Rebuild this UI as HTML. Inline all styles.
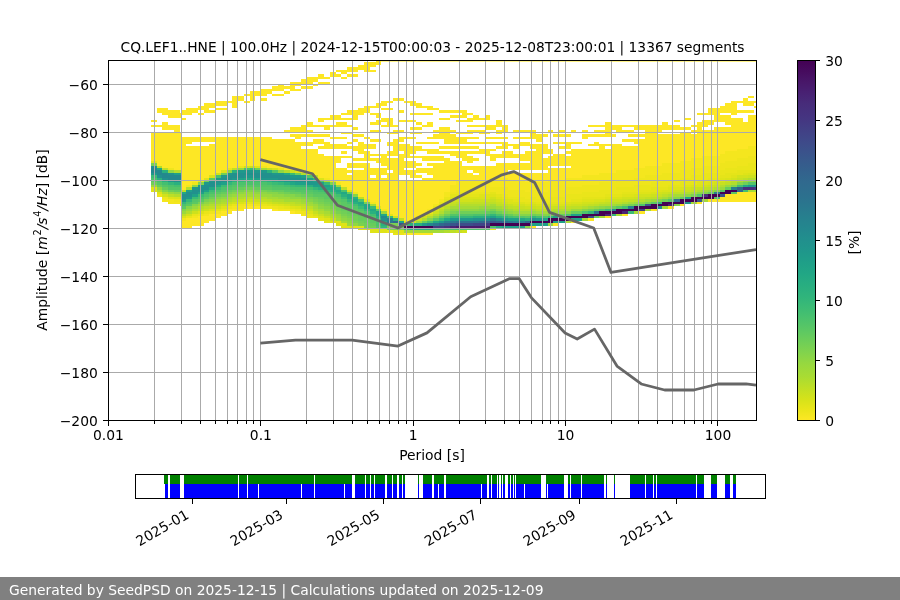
<!DOCTYPE html>
<html lang="en"><head><meta charset="utf-8"><title>PPSD CQ.LEF1..HNE</title>
<style>
html,body{margin:0;padding:0;background:#fff;}
body{width:900px;height:600px;overflow:hidden;position:relative;font-family:'DejaVu Sans','Liberation Sans',sans-serif;}
svg{position:absolute;left:0;top:0;display:block;}
</style></head><body>
<svg width="900" height="600" viewBox="0 0 900 600">
<rect width="900" height="600" fill="#fff"/>
<g shape-rendering="crispEdges">
<path fill="#fde725" d="M375.65 60H381.38V64.8H375.65zM369.92 62.4H375.65V67.2H369.92zM364.19 62.4H369.92V72H364.19zM358.45 64.8H364.19V69.6H358.45zM346.99 67.2H358.45V72H346.99zM335.52 69.6H341.25V72H335.52zM369.92 69.6H375.65V72H369.92zM341.25 69.6H346.99V74.4H341.25zM329.79 72H335.52V76.8H329.79zM335.52 74.4H341.25V76.8H335.52zM346.99 74.4H358.45V76.8H346.99zM318.32 74.4H324.06V79.2H318.32zM324.05 76.8H329.79V79.2H324.05zM341.25 76.8H346.99V79.2H341.25zM312.59 76.8H318.32V81.6H312.59zM306.86 76.8H312.59V84H306.86zM301.12 79.2H306.86V84H301.12zM318.32 81.6H329.79V84H318.32zM295.39 81.6H301.12V86.4H295.39zM289.66 81.6H295.39V91.2H289.66zM312.59 84H318.32V86.4H312.59zM278.19 84H283.92V91.2H278.19zM283.92 86.4H289.66V88.8H283.92zM301.12 86.4H312.59V88.8H301.12zM272.46 86.4H278.19V91.2H272.46zM295.39 88.8H301.12V91.2H295.39zM266.72 88.8H272.46V93.6H266.72zM260.99 88.8H266.72V96H260.99zM283.92 91.2H289.66V93.6H283.92zM255.26 91.2H260.99V96H255.26zM249.53 91.2H255.26V100.8H249.53zM243.79 93.6H249.53V96H243.79zM272.46 93.6H283.92V96H272.46zM748.3 96H754.03V98.4H748.3zM238.06 96H243.79V100.8H238.06zM232.33 96H238.06V108H232.33zM260.99 98.4H266.72V100.8H260.99zM392.85 98.4H404.32V100.8H392.85zM742.56 98.4H748.3V105.6H742.56zM226.59 100.8H232.33V103.2H226.59zM243.79 100.8H249.53V103.2H243.79zM387.12 100.8H392.85V103.2H387.12zM404.32 100.8H410.05V103.2H404.32zM736.83 100.8H742.56V103.2H736.83zM754.03 100.8H756V103.2H754.03zM215.13 100.8H226.59V105.6H215.13zM381.38 100.8H387.12V105.6H381.38zM410.05 100.8H415.78V105.6H410.05zM748.3 100.8H754.03V105.6H748.3zM731.1 100.8H736.83V115.2H731.1zM209.39 103.2H215.13V108H209.39zM375.65 103.2H381.38V108H375.65zM415.78 103.2H421.52V108H415.78zM203.66 103.2H209.39V112.8H203.66zM725.37 103.2H731.1V112.8H725.37zM369.92 105.6H375.65V108H369.92zM421.52 105.6H427.25V108H421.52zM754.03 105.6H756V108H754.03zM197.93 105.6H203.66V110.4H197.93zM427.25 105.6H432.98V110.4H427.25zM364.19 105.6H369.92V112.8H364.19zM719.63 105.6H725.36V112.8H719.63zM215.13 108H226.59V110.4H215.13zM381.38 108H392.85V110.4H381.38zM432.98 108H438.71V110.4H432.98zM156.73 108H162.47V112.8H156.73zM192.2 108H197.93V112.8H192.2zM162.47 108H168.2V115.2H162.47zM186.46 108H192.2V115.2H186.46zM358.45 108H364.19V115.2H358.45zM708.17 108H713.9V115.2H708.17zM713.9 108H719.63V122.4H713.9zM209.39 110.4H215.13V112.8H209.39zM398.58 110.4H404.32V112.8H398.58zM438.71 110.4H461.65V112.8H438.71zM736.83 110.4H754.03V112.8H736.83zM180.73 110.4H186.46V115.2H180.73zM346.99 110.4H352.72V115.2H346.99zM168.2 110.4H179.66V117.6H168.2zM461.65 110.4H467.38V117.6H461.65zM352.72 110.4H358.45V120H352.72zM197.93 112.8H203.66V115.2H197.93zM341.25 112.8H346.99V115.2H341.25zM369.92 112.8H375.65V115.2H369.92zM410.05 112.8H432.98V115.2H410.05zM467.38 112.8H473.11V115.2H467.38zM696.7 112.8H708.17V115.2H696.7zM179.66 112.8H180.73V117.6H179.66zM375.65 112.8H381.38V117.6H375.65zM450.18 115.2H461.65V117.6H450.18zM329.79 115.2H341.25V120H329.79zM473.11 115.2H478.85V120H473.11zM484.58 115.2H490.31V120H484.58zM719.63 115.2H725.36V122.4H719.63zM725.37 115.2H731.1V124.8H725.37zM748.3 115.2H756V146.4H748.3zM180.73 117.6H186.46V120H180.73zM324.05 117.6H329.79V120H324.05zM341.25 117.6H352.72V120H341.25zM438.71 117.6H450.18V120H438.71zM478.85 117.6H484.58V120H478.85zM685.23 117.6H690.97V120H685.23zM318.32 117.6H324.06V122.4H318.32zM381.38 117.6H387.12V122.4H381.38zM467.38 117.6H473.11V122.4H467.38zM387.12 117.6H392.85V127.2H387.12zM736.83 117.6H742.56V148.8H736.83zM731.1 117.6H736.83V151.2H731.1zM151 120H156.73V122.4H151zM398.58 120H415.78V122.4H398.58zM455.91 120H467.38V122.4H455.91zM673.77 120H679.5V122.4H673.77zM375.65 120H381.38V124.8H375.65zM708.17 120H713.9V124.8H708.17zM496.04 120H501.78V127.2H496.04zM702.43 120H708.17V127.2H702.43zM369.92 122.4H375.65V124.8H369.92zM415.78 122.4H421.52V124.8H415.78zM306.86 122.4H312.59V127.2H306.86zM335.52 122.4H346.99V127.2H335.52zM427.25 122.4H432.98V127.2H427.25zM162.47 122.4H168.2V129.6H162.47zM662.3 122.4H668.03V129.6H662.3zM604.97 122.4H610.7V136.8H604.97zM742.56 122.4H748.3V148.8H742.56zM696.7 122.4H702.43V158.4H696.7zM151 124.8H162.47V127.2H151zM312.59 124.8H324.06V127.2H312.59zM329.79 124.8H335.52V127.2H329.79zM346.99 124.8H352.72V127.2H346.99zM381.38 124.8H387.12V127.2H381.38zM392.85 124.8H398.58V127.2H392.85zM421.52 124.8H427.25V127.2H421.52zM467.38 124.8H484.58V127.2H467.38zM587.77 124.8H604.97V127.2H587.77zM622.17 124.8H633.64V127.2H622.17zM690.97 124.8H696.7V127.2H690.97zM168.2 124.8H173.93V129.6H168.2zM324.05 124.8H329.79V129.6H324.05zM484.58 124.8H496.05V129.6H484.58zM610.7 124.8H616.44V129.6H610.7zM633.64 124.8H645.1V129.6H633.64zM668.03 124.8H679.5V129.6H668.03zM301.12 124.8H306.86V132H301.12zM501.78 124.8H507.51V132H501.78zM616.44 124.8H622.17V132H616.44zM656.57 124.8H662.3V132H656.57zM645.1 124.8H656.57V165.6H645.1zM173.93 124.8H179.66V170.4H173.93zM352.72 127.2H358.45V129.6H352.72zM410.05 127.2H421.52V129.6H410.05zM679.5 127.2H690.97V129.6H679.5zM289.66 127.2H301.12V132H289.66zM438.71 127.2H444.45V139.2H438.71zM444.45 127.2H450.18V144H444.45zM725.37 127.2H731.1V151.2H725.37zM719.63 127.2H725.36V153.6H719.63zM713.9 127.2H719.63V156H713.9zM283.92 129.6H289.66V132H283.92zM306.86 129.6H312.59V132H306.86zM369.92 129.6H381.38V132H369.92zM398.58 129.6H404.32V132H398.58zM432.98 129.6H438.71V132H432.98zM450.18 129.6H455.91V132H450.18zM473.11 129.6H478.85V132H473.11zM513.24 129.6H530.44V132H513.24zM547.64 129.6H553.37V132H547.64zM559.11 129.6H564.84V132H559.11zM570.57 129.6H576.31V132H570.57zM582.04 129.6H587.77V132H582.04zM593.51 129.6H604.97V132H593.51zM622.17 129.6H633.64V132H622.17zM690.97 129.6H696.7V132H690.97zM392.85 129.6H398.58V134.4H392.85zM467.38 129.6H473.11V134.4H467.38zM478.85 129.6H484.58V134.4H478.85zM496.04 129.6H501.78V134.4H496.04zM530.44 129.6H536.18V139.2H530.44zM702.43 129.6H713.9V156H702.43zM341.25 132H352.72V134.4H341.25zM387.12 132H392.85V134.4H387.12zM410.05 132H421.52V134.4H410.05zM455.91 132H467.38V134.4H455.91zM484.58 132H490.31V134.4H484.58zM151 132H156.73V160.8H151zM679.5 132H690.97V160.8H679.5zM156.73 132H162.47V165.6H156.73zM162.47 132H173.93V168H162.47zM179.66 132H180.73V170.4H179.66zM289.66 134.4H295.39V136.8H289.66zM301.12 134.4H329.79V136.8H301.12zM352.72 134.4H364.19V136.8H352.72zM541.91 134.4H547.64V136.8H541.91zM553.38 134.4H570.57V136.8H553.38zM587.77 134.4H604.97V136.8H587.77zM610.7 134.4H616.44V136.8H610.7zM627.9 134.4H645.1V136.8H627.9zM295.39 134.4H301.12V139.2H295.39zM432.98 134.4H438.71V139.2H432.98zM582.04 134.4H587.77V139.2H582.04zM536.18 134.4H541.91V141.6H536.18zM450.18 134.4H455.91V144H450.18zM690.97 134.4H696.7V158.4H690.97zM662.3 134.4H679.5V163.2H662.3zM656.57 134.4H662.3V165.6H656.57zM329.79 136.8H346.99V139.2H329.79zM364.19 136.8H369.92V139.2H364.19zM404.32 136.8H415.78V139.2H404.32zM427.25 136.8H432.98V139.2H427.25zM467.38 136.8H478.85V139.2H467.38zM484.58 136.8H507.51V139.2H484.58zM513.24 136.8H530.44V139.2H513.24zM192.2 136.8H215.13V141.6H192.2zM398.58 136.8H404.32V141.6H398.58zM186.46 136.8H192.2V144H186.46zM455.91 136.8H467.38V144H455.91zM238.06 136.8H266.72V165.6H238.06zM226.59 136.8H238.06V168H226.59zM266.72 136.8H272.46V168H266.72zM220.86 136.8H226.59V170.4H220.86zM215.13 136.8H220.86V172.8H215.13zM180.73 136.8H186.46V189.6H180.73zM352.72 139.2H358.45V141.6H352.72zM369.92 139.2H381.38V141.6H369.92zM622.17 139.2H633.64V141.6H622.17zM312.59 139.2H324.06V144H312.59zM633.64 139.2H639.37V144H633.64zM392.85 139.2H398.58V156H392.85zM272.46 139.2H283.92V168H272.46zM639.37 139.2H645.1V168H639.37zM283.92 139.2H295.39V170.4H283.92zM346.99 141.6H352.72V144H346.99zM415.78 141.6H438.71V144H415.78zM467.38 141.6H501.78V144H467.38zM553.38 141.6H564.84V144H553.38zM570.57 141.6H582.04V144H570.57zM301.12 141.6H312.59V146.4H301.12zM387.12 141.6H392.85V146.4H387.12zM518.98 141.6H530.44V146.4H518.98zM593.51 141.6H599.24V146.4H593.51zM324.05 141.6H329.79V148.8H324.05zM501.78 141.6H507.51V148.8H501.78zM564.84 141.6H570.57V148.8H564.84zM358.45 141.6H364.19V153.6H358.45zM295.39 141.6H301.12V170.4H295.39zM507.51 144H513.24V146.4H507.51zM587.77 144H593.51V146.4H587.77zM604.97 144H610.7V146.4H604.97zM329.79 144H346.99V148.8H329.79zM364.19 144H375.65V148.8H364.19zM513.24 144H518.98V148.8H513.24zM530.44 144H536.18V148.8H530.44zM398.58 144H404.32V151.2H398.58zM541.91 144H547.64V153.6H541.91zM404.32 144H410.05V158.4H404.32zM536.18 144H541.91V170.4H536.18zM616.44 144H622.17V170.4H616.44zM599.24 144H604.97V172.8H599.24zM610.7 144H616.44V172.8H610.7zM209.39 144H215.13V175.2H209.39zM318.32 146.4H324.06V148.8H318.32zM346.99 146.4H352.72V148.8H346.99zM438.71 146.4H478.85V148.8H438.71zM496.04 146.4H501.78V148.8H496.04zM559.11 146.4H564.84V148.8H559.11zM352.72 146.4H358.45V151.2H352.72zM415.78 146.4H421.52V151.2H415.78zM410.05 146.4H415.78V153.6H410.05zM633.64 146.4H639.37V168H633.64zM622.17 146.4H633.64V170.4H622.17zM203.66 146.4H209.39V177.6H203.66zM197.93 146.4H203.66V180H197.93zM192.2 146.4H197.93V182.4H192.2zM186.46 146.4H192.2V184.8H186.46zM421.52 148.8H427.25V151.2H421.52zM490.31 148.8H496.05V151.2H490.31zM427.25 148.8H438.71V153.6H427.25zM478.85 148.8H484.58V153.6H478.85zM547.64 148.8H553.37V153.6H547.64zM484.58 148.8H490.31V156H484.58zM301.12 148.8H306.86V170.4H301.12zM306.86 148.8H312.59V172.8H306.86zM604.97 148.8H610.7V172.8H604.97zM312.59 148.8H318.32V175.2H312.59zM582.04 148.8H599.24V175.2H582.04zM570.57 148.8H582.04V177.6H570.57zM341.25 151.2H346.99V153.6H341.25zM438.71 151.2H450.18V153.6H438.71zM467.38 151.2H478.85V153.6H467.38zM564.84 151.2H570.57V153.6H564.84zM387.12 151.2H392.85V156H387.12zM450.18 151.2H455.91V156H450.18zM455.91 151.2H461.65V158.4H455.91zM501.78 151.2H513.24V158.4H501.78zM364.19 151.2H369.92V160.8H364.19zM461.65 151.2H467.38V160.8H461.65zM524.71 151.2H530.44V160.8H524.71zM530.44 151.2H536.18V170.4H530.44zM369.92 153.6H381.38V156H369.92zM496.04 153.6H501.78V158.4H496.04zM513.24 153.6H518.98V158.4H513.24zM490.31 153.6H496.05V160.8H490.31zM518.98 153.6H524.71V160.8H518.98zM381.38 153.6H387.12V165.6H381.38zM553.38 153.6H564.84V165.6H553.38zM398.58 153.6H404.32V175.2H398.58zM318.32 153.6H324.06V177.6H318.32zM341.25 156H352.72V158.4H341.25zM410.05 156H421.52V158.4H410.05zM421.52 156H444.45V160.8H421.52zM335.52 156H341.25V163.2H335.52zM467.38 156H473.11V163.2H467.38zM547.64 156H553.37V165.6H547.64zM564.84 156H570.57V165.6H564.84zM324.05 156H329.79V177.6H324.05zM329.79 156H335.52V180H329.79zM352.72 158.4H364.19V160.8H352.72zM369.92 158.4H375.65V160.8H369.92zM473.11 158.4H478.85V160.8H473.11zM375.65 158.4H381.38V163.2H375.65zM387.12 158.4H392.85V170.4H387.12zM541.91 158.4H547.64V170.4H541.91zM444.45 158.4H450.18V192H444.45zM392.85 158.4H398.58V216H392.85zM404.32 160.8H415.78V168H404.32zM455.91 160.8H461.65V180H455.91zM450.18 160.8H455.91V184.8H450.18zM415.78 163.2H421.52V165.6H415.78zM427.25 163.2H432.98V165.6H427.25zM346.99 163.2H364.19V168H346.99zM507.51 163.2H530.44V170.4H507.51zM496.04 163.2H507.51V177.6H496.04zM364.19 163.2H369.92V199.2H364.19zM438.71 163.2H444.45V199.2H438.71zM432.98 163.2H438.71V204H432.98zM467.38 165.6H473.11V170.4H467.38zM473.11 165.6H478.85V172.8H473.11zM490.31 165.6H496.05V177.6H490.31zM461.65 165.6H467.38V180H461.65zM478.85 165.6H490.31V180H478.85zM415.78 168H427.25V172.8H415.78zM369.92 168H375.65V175.2H369.92zM381.38 168H387.12V175.2H381.38zM427.25 168H432.98V175.2H427.25zM564.84 168H570.57V177.6H564.84zM547.64 168H564.84V180H547.64zM335.52 168H341.25V182.4H335.52zM341.25 168H346.99V187.2H341.25zM375.65 168H381.38V206.4H375.65zM346.99 170.4H352.72V172.8H346.99zM404.32 170.4H410.05V175.2H404.32zM410.05 170.4H415.78V177.6H410.05zM352.72 170.4H358.45V192H352.72zM358.45 170.4H364.19V196.8H358.45zM467.38 172.8H473.11V180H467.38zM507.51 172.8H524.71V180H507.51zM530.44 172.8H536.18V180H530.44zM524.71 172.8H530.44V182.4H524.71zM536.18 172.8H547.64V182.4H536.18zM387.12 172.8H392.85V213.6H387.12zM415.78 175.2H421.52V177.6H415.78zM473.11 175.2H478.85V180H473.11zM346.99 175.2H352.72V189.6H346.99zM369.92 177.6H375.65V201.6H369.92zM381.38 177.6H387.12V208.8H381.38zM427.25 177.6H432.98V208.8H427.25zM421.52 177.6H427.25V213.6H421.52zM415.78 180H421.52V216H415.78zM398.58 180H404.32V218.4H398.58zM404.32 180H415.78V220.8H404.32zM736.83 192H756V201.6H736.83zM725.37 194.4H736.83V201.6H725.37zM719.63 196.8H725.36V201.6H719.63zM708.17 199.2H719.63V201.6H708.17zM696.7 201.6H702.43V204H696.7zM679.5 204H685.23V206.4H679.5zM243.79 206.4H260.99V208.8H243.79zM668.03 206.4H673.77V208.8H668.03zM232.33 208.8H243.79V211.2H232.33zM272.46 208.8H278.19V211.2H272.46zM650.84 208.8H656.57V211.2H650.84zM226.59 208.8H232.33V213.6H226.59zM289.66 211.2H295.39V213.6H289.66zM639.37 211.2H645.1V213.6H639.37zM220.86 211.2H226.59V216H220.86zM622.17 213.6H627.9V216H622.17zM215.13 213.6H220.86V218.4H215.13zM209.39 213.6H215.13V220.8H209.39zM604.97 216H610.7V218.4H604.97zM203.66 216H209.39V223.2H203.66zM197.93 216H203.66V225.6H197.93zM587.77 218.4H593.51V220.8H587.77zM192.2 218.4H197.93V225.6H192.2zM186.46 218.4H192.2V228H186.46zM570.57 220.8H576.31V223.2H570.57zM180.73 220.8H186.46V228H180.73zM553.38 223.2H559.11V225.6H553.38zM530.44 225.6H536.18V228H530.44zM404.32 232.8H432.98V235.2H404.32z"/>
<path fill="#f4e61e" d="M748.3 146.4H756V156H748.3zM736.83 148.8H748.3V158.4H736.83zM725.37 151.2H736.83V160.8H725.37zM719.63 153.6H725.36V163.2H719.63zM702.43 156H719.63V165.6H702.43zM690.97 158.4H702.43V168H690.97zM679.5 160.8H690.97V170.4H679.5zM662.3 163.2H679.5V172.8H662.3zM260.99 165.6H266.72V168H260.99zM645.1 165.6H662.3V175.2H645.1zM633.64 168H645.1V177.6H633.64zM301.12 170.4H306.86V172.8H301.12zM616.44 170.4H633.64V180H616.44zM599.24 172.8H616.44V182.4H599.24zM582.04 175.2H599.24V184.8H582.04zM324.05 177.6H329.79V180H324.05zM490.31 177.6H507.51V187.2H490.31zM564.84 177.6H582.04V187.2H564.84zM455.91 180H490.31V189.6H455.91zM507.51 180H524.71V189.6H507.51zM530.44 180H536.18V189.6H530.44zM547.64 180H564.84V189.6H547.64zM335.52 182.4H341.25V184.8H335.52zM524.71 182.4H530.44V192H524.71zM536.18 182.4H547.64V192H536.18zM186.46 184.8H192.2V187.2H186.46zM450.18 184.8H455.91V192H450.18zM444.45 192H450.18V196.8H444.45zM162.47 199.2H168.2V201.6H162.47zM438.71 199.2H444.45V201.6H438.71zM168.2 199.2H173.93V204H168.2zM173.93 201.6H179.66V204H173.93zM369.92 201.6H375.65V204H369.92zM179.66 201.6H180.73V206.4H179.66zM243.79 204H255.26V206.4H243.79zM432.98 204H438.71V206.4H432.98zM232.33 206.4H243.79V208.8H232.33zM260.99 206.4H272.46V208.8H260.99zM278.19 208.8H289.66V211.2H278.19zM381.38 208.8H387.12V211.2H381.38zM427.25 208.8H432.98V211.2H427.25zM215.13 211.2H220.86V213.6H215.13zM295.39 211.2H301.12V213.6H295.39zM203.66 213.6H209.39V216H203.66zM301.12 213.6H306.86V216H301.12zM192.2 216H197.93V218.4H192.2zM180.73 218.4H186.46V220.8H180.73z"/>
<path fill="#efe51c" d="M748.3 156H756V163.2H748.3zM736.83 158.4H748.3V165.6H736.83zM725.37 160.8H736.83V168H725.37zM719.63 163.2H725.36V170.4H719.63zM238.06 165.6H243.79V168H238.06zM702.43 165.6H719.63V172.8H702.43zM168.2 168H173.93V170.4H168.2zM690.97 168H702.43V175.2H690.97zM679.5 170.4H690.97V177.6H679.5zM662.3 172.8H679.5V180H662.3zM650.84 175.2H662.3V182.4H650.84zM645.1 175.2H650.84V184.8H645.1zM633.64 177.6H645.1V184.8H633.64zM329.79 180H335.52V182.4H329.79zM616.44 180H633.64V187.2H616.44zM192.2 182.4H197.93V184.8H192.2zM599.24 182.4H616.44V189.6H599.24zM582.04 184.8H599.24V192H582.04zM490.31 187.2H496.05V192H490.31zM496.04 187.2H507.51V194.4H496.04zM564.84 187.2H582.04V194.4H564.84zM455.91 189.6H490.31V192H455.91zM507.51 189.6H524.71V196.8H507.51zM530.44 189.6H536.18V196.8H530.44zM547.64 189.6H564.84V196.8H547.64zM352.72 192H358.45V194.4H352.72zM450.18 192H455.91V194.4H450.18zM524.71 192H530.44V199.2H524.71zM536.18 192H547.64V199.2H536.18zM156.73 194.4H162.47V196.8H156.73zM162.47 196.8H168.2V199.2H162.47zM173.93 199.2H180.73V201.6H173.93zM238.06 204H243.79V206.4H238.06zM255.26 204H260.99V206.4H255.26zM226.59 206.4H232.33V208.8H226.59zM272.46 206.4H278.19V208.8H272.46zM220.86 208.8H226.59V211.2H220.86zM289.66 208.8H295.39V211.2H289.66zM209.39 211.2H215.13V213.6H209.39zM301.12 211.2H306.86V213.6H301.12zM197.93 213.6H203.66V216H197.93zM306.86 216H312.59V218.4H306.86zM415.78 216H421.52V218.4H415.78zM490.31 228H496.05V230.4H490.31z"/>
<path fill="#eae51a" d="M748.3 163.2H756V170.4H748.3zM736.83 165.6H748.3V170.4H736.83zM226.59 168H232.33V170.4H226.59zM278.19 168H283.92V170.4H278.19zM725.37 168H736.83V172.8H725.37zM719.63 170.4H725.36V175.2H719.63zM708.17 172.8H719.63V177.6H708.17zM702.43 172.8H708.17V180H702.43zM696.7 175.2H702.43V180H696.7zM690.97 175.2H696.7V182.4H690.97zM679.5 177.6H690.97V182.4H679.5zM197.93 180H203.66V182.4H197.93zM668.03 180H679.5V184.8H668.03zM662.3 180H668.03V187.2H662.3zM650.84 182.4H662.3V187.2H650.84zM639.37 184.8H650.84V189.6H639.37zM633.64 184.8H639.37V192H633.64zM622.17 187.2H633.64V192H622.17zM616.44 187.2H622.17V194.4H616.44zM604.97 189.6H616.44V194.4H604.97zM599.24 189.6H604.97V196.8H599.24zM455.91 192H490.31V194.4H455.91zM582.04 192H599.24V196.8H582.04zM501.78 194.4H507.51V196.8H501.78zM570.57 194.4H582.04V199.2H570.57zM564.84 194.4H570.57V201.6H564.84zM444.45 196.8H450.18V199.2H444.45zM507.51 196.8H518.98V199.2H507.51zM518.98 196.8H524.71V201.6H518.98zM530.44 196.8H536.18V201.6H530.44zM547.64 196.8H564.84V201.6H547.64zM364.19 199.2H369.92V201.6H364.19zM524.71 199.2H530.44V201.6H524.71zM536.18 199.2H541.91V201.6H536.18zM541.91 199.2H547.64V204H541.91zM438.71 201.6H444.45V204H438.71zM232.33 204H238.06V206.4H232.33zM260.99 204H266.72V206.4H260.99zM278.19 206.4H283.92V208.8H278.19zM432.98 206.4H438.71V208.8H432.98zM295.39 208.8H301.12V211.2H295.39zM203.66 211.2H209.39V213.6H203.66zM427.25 211.2H432.98V213.6H427.25zM192.2 213.6H197.93V216H192.2zM306.86 213.6H312.59V216H306.86zM421.52 213.6H427.25V216H421.52zM186.46 216H192.2V218.4H186.46zM312.59 216H318.32V218.4H312.59zM404.32 220.8H410.05V223.2H404.32zM387.12 230.4H392.85V232.8H387.12zM392.85 232.8H404.32V235.2H392.85z"/>
<path fill="#e5e419" d="M151 160.8H156.73V163.2H151zM742.56 170.4H756V172.8H742.56zM736.83 170.4H742.56V175.2H736.83zM731.1 172.8H736.83V175.2H731.1zM725.37 172.8H731.1V177.6H725.37zM719.63 175.2H725.36V177.6H719.63zM713.9 177.6H719.63V180H713.9zM708.17 177.6H713.9V182.4H708.17zM696.7 180H708.17V182.4H696.7zM685.23 182.4H696.7V184.8H685.23zM679.5 182.4H685.23V187.2H679.5zM668.03 184.8H679.5V187.2H668.03zM656.57 187.2H668.03V189.6H656.57zM650.84 187.2H656.57V192H650.84zM639.37 189.6H650.84V192H639.37zM490.31 192H496.05V194.4H490.31zM622.17 192H639.37V194.4H622.17zM450.18 194.4H478.85V196.8H450.18zM496.04 194.4H501.78V196.8H496.04zM604.97 194.4H622.17V196.8H604.97zM501.78 196.8H507.51V199.2H501.78zM582.04 196.8H604.97V199.2H582.04zM444.45 199.2H450.18V201.6H444.45zM513.24 199.2H518.98V201.6H513.24zM570.57 199.2H582.04V201.6H570.57zM243.79 201.6H255.26V204H243.79zM524.71 201.6H530.44V204H524.71zM536.18 201.6H541.91V204H536.18zM547.64 201.6H564.84V204H547.64zM266.72 204H272.46V206.4H266.72zM283.92 206.4H289.66V208.8H283.92zM375.65 206.4H381.38V208.8H375.65zM215.13 208.8H220.86V211.2H215.13zM387.12 213.6H392.85V216H387.12zM318.32 218.4H324.06V220.8H318.32zM324.05 220.8H329.79V223.2H324.05z"/>
<path fill="#dfe318" d="M255.26 165.6H260.99V168H255.26zM220.86 170.4H226.59V172.8H220.86zM295.39 170.4H301.12V172.8H295.39zM742.56 172.8H748.3V175.2H742.56zM731.1 175.2H736.83V177.6H731.1zM203.66 177.6H209.39V180H203.66zM719.63 177.6H725.36V180H719.63zM713.9 180H719.63V182.4H713.9zM696.7 182.4H708.17V184.8H696.7zM685.23 184.8H690.97V187.2H685.23zM668.03 187.2H679.5V189.6H668.03zM151 187.2H156.73V192H151zM346.99 189.6H352.72V192H346.99zM656.57 189.6H662.3V192H656.57zM156.73 192H162.47V194.4H156.73zM639.37 192H650.84V194.4H639.37zM478.85 194.4H496.05V196.8H478.85zM622.17 194.4H633.64V196.8H622.17zM168.2 196.8H173.93V199.2H168.2zM450.18 196.8H455.91V199.2H450.18zM496.04 196.8H501.78V199.2H496.04zM604.97 196.8H610.7V199.2H604.97zM507.51 199.2H513.24V201.6H507.51zM582.04 199.2H593.51V201.6H582.04zM255.26 201.6H260.99V204H255.26zM518.98 201.6H524.71V204H518.98zM530.44 201.6H536.18V204H530.44zM564.84 201.6H570.57V204H564.84zM226.59 204H232.33V206.4H226.59zM272.46 204H278.19V206.4H272.46zM438.71 204H444.45V206.4H438.71zM541.91 204H547.64V206.4H541.91zM220.86 206.4H226.59V208.8H220.86zM289.66 206.4H295.39V208.8H289.66zM301.12 208.8H306.86V211.2H301.12zM432.98 208.8H438.71V211.2H432.98zM197.93 211.2H203.66V213.6H197.93zM306.86 211.2H312.59V213.6H306.86zM324.05 218.4H329.79V220.8H324.05zM329.79 220.8H335.52V223.2H329.79zM335.52 220.8H341.25V225.6H335.52zM341.25 223.2H346.99V228H341.25zM346.99 225.6H358.45V228H346.99zM358.45 225.6H364.19V230.4H358.45zM364.19 228H369.92V230.4H364.19zM369.92 228H387.12V232.8H369.92zM392.85 230.4H404.32V232.8H392.85z"/>
<path fill="#dae319" d="M306.86 172.8H312.59V175.2H306.86zM748.3 172.8H756V175.2H748.3zM209.39 175.2H215.13V177.6H209.39zM318.32 177.6H324.06V180H318.32zM725.37 177.6H731.1V180H725.37zM719.63 180H725.36V182.4H719.63zM708.17 182.4H713.9V184.8H708.17zM690.97 184.8H702.43V187.2H690.97zM679.5 187.2H685.23V189.6H679.5zM662.3 189.6H673.77V192H662.3zM650.84 192H656.57V194.4H650.84zM633.64 194.4H639.37V196.8H633.64zM173.93 196.8H179.66V199.2H173.93zM455.91 196.8H490.31V199.2H455.91zM610.7 196.8H622.17V199.2H610.7zM501.78 199.2H507.51V201.6H501.78zM593.51 199.2H604.97V201.6H593.51zM238.06 201.6H243.79V204H238.06zM260.99 201.6H266.72V204H260.99zM444.45 201.6H450.18V204H444.45zM507.51 201.6H518.98V204H507.51zM570.57 201.6H582.04V204H570.57zM278.19 204H283.92V206.4H278.19zM524.71 204H530.44V206.4H524.71zM536.18 204H541.91V206.4H536.18zM547.64 204H564.84V206.4H547.64zM295.39 206.4H301.12V208.8H295.39zM209.39 208.8H215.13V211.2H209.39zM312.59 213.6H318.32V216H312.59zM180.73 216H186.46V218.4H180.73zM318.32 216H324.06V218.4H318.32z"/>
<path fill="#d2e21b" d="M243.79 165.6H249.53V168H243.79zM272.46 168H278.19V170.4H272.46zM215.13 172.8H220.86V175.2H215.13zM736.83 175.2H748.3V177.6H736.83zM731.1 177.6H736.83V180H731.1zM713.9 182.4H719.63V184.8H713.9zM702.43 184.8H708.17V187.2H702.43zM685.23 187.2H690.97V189.6H685.23zM673.77 189.6H679.5V192H673.77zM656.57 192H662.3V194.4H656.57zM162.47 194.4H168.2V196.8H162.47zM639.37 194.4H650.84V196.8H639.37zM179.66 196.8H180.73V199.2H179.66zM490.31 196.8H496.05V199.2H490.31zM622.17 196.8H633.64V199.2H622.17zM249.53 199.2H255.26V201.6H249.53zM450.18 199.2H473.11V201.6H450.18zM496.04 199.2H501.78V201.6H496.04zM604.97 199.2H610.7V201.6H604.97zM232.33 201.6H238.06V204H232.33zM266.72 201.6H272.46V204H266.72zM501.78 201.6H507.51V204H501.78zM582.04 201.6H593.51V204H582.04zM283.92 204H289.66V206.4H283.92zM513.24 204H524.71V206.4H513.24zM530.44 204H536.18V206.4H530.44zM564.84 204H570.57V206.4H564.84zM438.71 206.4H444.45V208.8H438.71zM541.91 206.4H547.64V208.8H541.91zM186.46 213.6H192.2V216H186.46zM427.25 213.6H432.98V216H427.25zM392.85 216H398.58V218.4H392.85zM421.52 216H427.25V218.4H421.52zM415.78 218.4H421.52V220.8H415.78zM410.05 220.8H415.78V223.2H410.05zM461.65 230.4H467.38V232.8H461.65z"/>
<path fill="#cde11d" d="M289.66 170.4H295.39V172.8H289.66zM748.3 175.2H754.03V177.6H748.3zM725.37 180H731.1V182.4H725.37zM708.17 184.8H713.9V187.2H708.17zM690.97 187.2H696.7V189.6H690.97zM679.5 189.6H685.23V192H679.5zM662.3 192H668.03V194.4H662.3zM650.84 194.4H656.57V196.8H650.84zM633.64 196.8H639.37V199.2H633.64zM243.79 199.2H249.53V201.6H243.79zM473.11 199.2H490.31V201.6H473.11zM610.7 199.2H622.17V201.6H610.7zM593.51 201.6H599.24V204H593.51zM444.45 204H450.18V206.4H444.45zM570.57 204H582.04V206.4H570.57zM215.13 206.4H220.86V208.8H215.13zM301.12 206.4H306.86V208.8H301.12zM524.71 206.4H530.44V208.8H524.71zM536.18 206.4H541.91V208.8H536.18zM547.64 206.4H553.37V208.8H547.64zM203.66 208.8H209.39V211.2H203.66zM306.86 208.8H312.59V211.2H306.86zM192.2 211.2H197.93V213.6H192.2zM432.98 211.2H438.71V213.6H432.98z"/>
<path fill="#c8e020" d="M249.53 165.6H255.26V168H249.53zM754.03 175.2H756V177.6H754.03zM736.83 177.6H742.56V180H736.83zM719.63 182.4H725.36V184.8H719.63zM713.9 184.8H719.63V187.2H713.9zM696.7 187.2H702.43V189.6H696.7zM685.23 189.6H690.97V192H685.23zM668.03 192H673.77V194.4H668.03zM656.57 194.4H662.3V196.8H656.57zM639.37 196.8H645.1V199.2H639.37zM238.06 199.2H243.79V201.6H238.06zM255.26 199.2H260.99V201.6H255.26zM490.31 199.2H496.05V201.6H490.31zM622.17 199.2H627.9V201.6H622.17zM226.59 201.6H232.33V204H226.59zM272.46 201.6H278.19V204H272.46zM450.18 201.6H455.91V204H450.18zM496.04 201.6H501.78V204H496.04zM599.24 201.6H604.97V204H599.24zM220.86 204H226.59V206.4H220.86zM289.66 204H295.39V206.4H289.66zM507.51 204H513.24V206.4H507.51zM582.04 204H587.77V206.4H582.04zM518.98 206.4H524.71V208.8H518.98zM530.44 206.4H536.18V208.8H530.44zM553.38 206.4H564.84V208.8H553.38zM312.59 211.2H318.32V213.6H312.59zM318.32 213.6H324.06V216H318.32zM324.05 216H329.79V218.4H324.05zM329.79 218.4H335.52V220.8H329.79zM455.91 230.4H461.65V232.8H455.91z"/>
<path fill="#c2df23" d="M232.33 168H238.06V170.4H232.33zM266.72 168H272.46V170.4H266.72zM312.59 175.2H318.32V177.6H312.59zM731.1 180H736.83V182.4H731.1zM702.43 187.2H708.17V189.6H702.43zM690.97 189.6H696.7V192H690.97zM673.77 192H679.5V194.4H673.77zM645.1 196.8H650.84V199.2H645.1zM260.99 199.2H266.72V201.6H260.99zM627.9 199.2H633.64V201.6H627.9zM278.19 201.6H283.92V204H278.19zM455.91 201.6H484.58V204H455.91zM604.97 201.6H610.7V204H604.97zM295.39 204H301.12V206.4H295.39zM501.78 204H507.51V206.4H501.78zM587.77 204H593.51V206.4H587.77zM209.39 206.4H215.13V208.8H209.39zM513.24 206.4H518.98V208.8H513.24zM564.84 206.4H570.57V208.8H564.84zM197.93 208.8H203.66V211.2H197.93zM438.71 208.8H444.45V211.2H438.71zM541.91 208.8H547.64V211.2H541.91zM398.58 218.4H404.32V220.8H398.58z"/>
<path fill="#bddf26" d="M162.47 168H168.2V170.4H162.47zM742.56 177.6H748.3V180H742.56zM725.37 182.4H731.1V184.8H725.37zM341.25 187.2H346.99V189.6H341.25zM708.17 187.2H713.9V189.6H708.17zM180.73 189.6H186.46V192H180.73zM679.5 192H685.23V194.4H679.5zM168.2 194.4H173.93V196.8H168.2zM662.3 194.4H668.03V196.8H662.3zM243.79 196.8H255.26V199.2H243.79zM358.45 196.8H364.19V199.2H358.45zM650.84 196.8H656.57V199.2H650.84zM232.33 199.2H238.06V201.6H232.33zM266.72 199.2H272.46V201.6H266.72zM633.64 199.2H639.37V201.6H633.64zM283.92 201.6H295.39V204H283.92zM484.58 201.6H496.05V204H484.58zM610.7 201.6H622.17V204H610.7zM215.13 204H220.86V206.4H215.13zM301.12 204H306.86V206.4H301.12zM450.18 204H455.91V206.4H450.18zM496.04 204H501.78V206.4H496.04zM593.51 204H599.24V206.4H593.51zM203.66 206.4H209.39V208.8H203.66zM306.86 206.4H312.59V208.8H306.86zM444.45 206.4H450.18V208.8H444.45zM507.51 206.4H513.24V208.8H507.51zM570.57 206.4H582.04V208.8H570.57zM518.98 208.8H530.44V211.2H518.98zM536.18 208.8H541.91V211.2H536.18zM547.64 208.8H553.37V211.2H547.64zM180.73 213.6H186.46V216H180.73zM450.18 230.4H455.91V232.8H450.18z"/>
<path fill="#b2dd2d" d="M156.73 165.6H162.47V168H156.73zM173.93 170.4H180.73V172.8H173.93zM283.92 170.4H289.66V172.8H283.92zM301.12 172.8H306.86V175.2H301.12zM748.3 177.6H756V180H748.3zM324.05 180H329.79V182.4H324.05zM736.83 180H742.56V182.4H736.83zM731.1 182.4H736.83V184.8H731.1zM719.63 184.8H725.36V187.2H719.63zM186.46 187.2H192.2V189.6H186.46zM713.9 187.2H719.63V189.6H713.9zM156.73 189.6H162.47V192H156.73zM696.7 189.6H702.43V192H696.7zM162.47 192H168.2V194.4H162.47zM685.23 192H690.97V194.4H685.23zM173.93 194.4H180.73V196.8H173.93zM668.03 194.4H673.77V196.8H668.03zM232.33 196.8H243.79V199.2H232.33zM255.26 196.8H266.72V199.2H255.26zM656.57 196.8H662.3V199.2H656.57zM226.59 199.2H232.33V201.6H226.59zM272.46 199.2H283.92V201.6H272.46zM639.37 199.2H645.1V201.6H639.37zM220.86 201.6H226.59V204H220.86zM295.39 201.6H301.12V204H295.39zM622.17 201.6H627.9V204H622.17zM209.39 204H215.13V206.4H209.39zM455.91 204H490.31V206.4H455.91zM599.24 204H610.7V206.4H599.24zM197.93 206.4H203.66V208.8H197.93zM501.78 206.4H507.51V208.8H501.78zM582.04 206.4H587.77V208.8H582.04zM192.2 208.8H197.93V211.2H192.2zM312.59 208.8H318.32V211.2H312.59zM513.24 208.8H518.98V211.2H513.24zM530.44 208.8H536.18V211.2H530.44zM553.38 208.8H570.57V211.2H553.38zM186.46 211.2H192.2V213.6H186.46zM318.32 211.2H324.06V213.6H318.32zM438.71 211.2H444.45V213.6H438.71zM324.05 213.6H329.79V216H324.05zM432.98 213.6H438.71V216H432.98zM329.79 216H335.52V218.4H329.79zM427.25 216H432.98V218.4H427.25zM421.52 218.4H427.25V220.8H421.52zM444.45 230.4H450.18V232.8H444.45z"/>
<path fill="#a5db36" d="M260.99 168H266.72V170.4H260.99zM702.43 189.6H708.17V192H702.43zM748.3 189.6H756V192H748.3zM690.97 192H696.7V194.4H690.97zM238.06 194.4H260.99V196.8H238.06zM673.77 194.4H679.5V196.8H673.77zM226.59 196.8H232.33V199.2H226.59zM266.72 196.8H278.19V199.2H266.72zM662.3 196.8H668.03V199.2H662.3zM220.86 199.2H226.59V201.6H220.86zM283.92 199.2H301.12V201.6H283.92zM645.1 199.2H650.84V201.6H645.1zM702.43 199.2H708.17V201.6H702.43zM215.13 201.6H220.86V204H215.13zM301.12 201.6H306.86V204H301.12zM627.9 201.6H633.64V204H627.9zM690.97 201.6H696.7V204H690.97zM203.66 204H209.39V206.4H203.66zM306.86 204H312.59V206.4H306.86zM369.92 204H375.65V206.4H369.92zM490.31 204H496.05V206.4H490.31zM610.7 204H616.44V206.4H610.7zM312.59 206.4H318.32V208.8H312.59zM450.18 206.4H478.85V208.8H450.18zM496.04 206.4H501.78V208.8H496.04zM587.77 206.4H593.51V208.8H587.77zM662.3 206.4H668.03V208.8H662.3zM318.32 208.8H324.06V211.2H318.32zM444.45 208.8H450.18V211.2H444.45zM507.51 208.8H513.24V211.2H507.51zM645.1 208.8H650.84V211.2H645.1zM324.05 211.2H329.79V213.6H324.05zM518.98 211.2H530.44V213.6H518.98zM536.18 211.2H553.37V213.6H536.18zM633.64 211.2H639.37V213.6H633.64zM329.79 213.6H335.52V216H329.79zM616.44 213.6H622.17V216H616.44zM599.24 216H604.97V218.4H599.24zM335.52 218.4H341.25V220.8H335.52zM582.04 218.4H587.77V220.8H582.04zM341.25 220.8H346.99V223.2H341.25zM564.84 220.8H570.57V223.2H564.84zM404.32 230.4H444.45V232.8H404.32z"/>
<path fill="#9bd93c" d="M238.06 168H243.79V170.4H238.06zM742.56 180H748.3V182.4H742.56zM151 184.8H156.73V187.2H151zM335.52 184.8H341.25V187.2H335.52zM725.37 184.8H731.1V187.2H725.37zM719.63 187.2H725.36V189.6H719.63zM708.17 189.6H713.9V192H708.17zM168.2 192H173.93V194.4H168.2zM243.79 192H255.26V194.4H243.79zM232.33 194.4H238.06V196.8H232.33zM260.99 194.4H272.46V196.8H260.99zM679.5 194.4H685.23V196.8H679.5zM278.19 196.8H289.66V199.2H278.19zM215.13 199.2H220.86V201.6H215.13zM301.12 199.2H306.86V201.6H301.12zM650.84 199.2H656.57V201.6H650.84zM209.39 201.6H215.13V204H209.39zM306.86 201.6H312.59V204H306.86zM633.64 201.6H639.37V204H633.64zM197.93 204H203.66V206.4H197.93zM312.59 204H318.32V206.4H312.59zM616.44 204H622.17V206.4H616.44zM192.2 206.4H197.93V208.8H192.2zM478.85 206.4H496.05V208.8H478.85zM593.51 206.4H599.24V208.8H593.51zM186.46 208.8H192.2V211.2H186.46zM501.78 208.8H507.51V211.2H501.78zM570.57 208.8H582.04V211.2H570.57zM180.73 211.2H186.46V213.6H180.73zM381.38 211.2H387.12V213.6H381.38zM513.24 211.2H518.98V213.6H513.24zM530.44 211.2H536.18V213.6H530.44zM553.38 211.2H564.84V213.6H553.38zM335.52 216H341.25V218.4H335.52zM415.78 220.8H421.52V223.2H415.78zM346.99 223.2H352.72V225.6H346.99zM547.64 223.2H553.37V225.6H547.64z"/>
<path fill="#90d743" d="M168.2 170.4H173.93V172.8H168.2zM278.19 170.4H283.92V172.8H278.19zM748.3 180H756V182.4H748.3zM192.2 184.8H197.93V187.2H192.2zM156.73 187.2H162.47V189.6H156.73zM173.93 192H180.73V194.4H173.93zM238.06 192H243.79V194.4H238.06zM255.26 192H266.72V194.4H255.26zM696.7 192H702.43V194.4H696.7zM226.59 194.4H232.33V196.8H226.59zM272.46 194.4H283.92V196.8H272.46zM685.23 194.4H690.97V196.8H685.23zM220.86 196.8H226.59V199.2H220.86zM289.66 196.8H301.12V199.2H289.66zM668.03 196.8H673.77V199.2H668.03zM203.66 201.6H209.39V204H203.66zM639.37 201.6H645.1V204H639.37zM318.32 206.4H324.06V208.8H318.32zM599.24 206.4H604.97V208.8H599.24zM324.05 208.8H329.79V211.2H324.05zM450.18 208.8H478.85V211.2H450.18zM496.04 208.8H501.78V211.2H496.04zM329.79 211.2H335.52V213.6H329.79zM444.45 211.2H450.18V213.6H444.45zM507.51 211.2H513.24V213.6H507.51zM335.52 213.6H341.25V216H335.52zM438.71 213.6H444.45V216H438.71zM432.98 216H438.71V218.4H432.98zM341.25 218.4H346.99V220.8H341.25zM346.99 220.8H352.72V223.2H346.99zM352.72 223.2H358.45V225.6H352.72z"/>
<path fill="#86d549" d="M226.59 170.4H232.33V172.8H226.59zM197.93 182.4H203.66V184.8H197.93zM329.79 182.4H335.52V184.8H329.79zM736.83 182.4H742.56V184.8H736.83zM731.1 184.8H736.83V187.2H731.1zM162.47 189.6H168.2V192H162.47zM243.79 189.6H255.26V192H243.79zM713.9 189.6H719.63V192H713.9zM232.33 192H238.06V194.4H232.33zM266.72 192H278.19V194.4H266.72zM702.43 192H708.17V194.4H702.43zM283.92 194.4H295.39V196.8H283.92zM352.72 194.4H358.45V196.8H352.72zM215.13 196.8H220.86V199.2H215.13zM301.12 196.8H306.86V199.2H301.12zM673.77 196.8H679.5V199.2H673.77zM209.39 199.2H215.13V201.6H209.39zM306.86 199.2H312.59V201.6H306.86zM656.57 199.2H662.3V201.6H656.57zM312.59 201.6H318.32V204H312.59zM192.2 204H197.93V206.4H192.2zM318.32 204H324.06V206.4H318.32zM622.17 204H627.9V206.4H622.17zM673.77 204H679.5V206.4H673.77zM186.46 206.4H192.2V208.8H186.46zM324.05 206.4H329.79V208.8H324.05zM604.97 206.4H610.7V208.8H604.97zM180.73 208.8H186.46V211.2H180.73zM329.79 208.8H335.52V211.2H329.79zM478.85 208.8H490.31V211.2H478.85zM582.04 208.8H587.77V211.2H582.04zM501.78 211.2H507.51V213.6H501.78zM564.84 211.2H570.57V213.6H564.84zM518.98 213.6H530.44V216H518.98zM541.91 213.6H547.64V216H541.91zM341.25 216H346.99V218.4H341.25zM346.99 218.4H352.72V220.8H346.99zM427.25 218.4H432.98V220.8H427.25zM524.71 225.6H530.44V228H524.71z"/>
<path fill="#7ad151" d="M151 163.2H156.73V165.6H151zM238.06 189.6H243.79V192H238.06zM255.26 189.6H266.72V192H255.26zM226.59 192H232.33V194.4H226.59zM278.19 192H283.92V194.4H278.19zM220.86 194.4H226.59V196.8H220.86zM295.39 194.4H301.12V196.8H295.39zM690.97 194.4H696.7V196.8H690.97zM306.86 196.8H312.59V199.2H306.86zM203.66 199.2H209.39V201.6H203.66zM312.59 199.2H318.32V201.6H312.59zM197.93 201.6H203.66V204H197.93zM318.32 201.6H324.06V204H318.32zM364.19 201.6H369.92V204H364.19zM645.1 201.6H650.84V204H645.1zM324.05 204H329.79V206.4H324.05zM627.9 204H633.64V206.4H627.9zM329.79 206.4H335.52V208.8H329.79zM490.31 208.8H496.05V211.2H490.31zM587.77 208.8H593.51V211.2H587.77zM335.52 211.2H341.25V213.6H335.52zM450.18 211.2H455.91V213.6H450.18zM341.25 213.6H346.99V216H341.25zM513.24 213.6H518.98V216H513.24zM536.18 213.6H541.91V216H536.18zM547.64 213.6H553.37V216H547.64zM346.99 216H352.72V218.4H346.99zM352.72 220.8H358.45V223.2H352.72zM358.45 223.2H364.19V225.6H358.45zM387.12 223.2H398.58V230.4H387.12zM398.58 225.6H404.32V230.4H398.58z"/>
<path fill="#70cf57" d="M255.26 168H260.99V170.4H255.26zM220.86 172.8H226.59V175.2H220.86zM295.39 172.8H301.12V175.2H295.39zM203.66 180H209.39V182.4H203.66zM151 182.4H156.73V184.8H151zM742.56 182.4H748.3V184.8H742.56zM243.79 187.2H255.26V189.6H243.79zM168.2 189.6H173.93V192H168.2zM232.33 189.6H238.06V192H232.33zM266.72 189.6H272.46V192H266.72zM283.92 192H289.66V194.4H283.92zM215.13 194.4H220.86V196.8H215.13zM301.12 194.4H306.86V196.8H301.12zM209.39 196.8H215.13V199.2H209.39zM312.59 196.8H318.32V199.2H312.59zM318.32 199.2H324.06V201.6H318.32zM662.3 199.2H668.03V201.6H662.3zM324.05 201.6H329.79V204H324.05zM329.79 204H335.52V206.4H329.79zM610.7 206.4H616.44V208.8H610.7zM335.52 206.4H341.25V211.2H335.52zM341.25 211.2H346.99V213.6H341.25zM455.91 211.2H484.58V213.6H455.91zM496.04 211.2H501.78V213.6H496.04zM346.99 213.6H352.72V216H346.99zM444.45 213.6H450.18V216H444.45zM530.44 213.6H536.18V216H530.44zM352.72 216H358.45V220.8H352.72zM358.45 220.8H364.19V223.2H358.45zM364.19 223.2H369.92V228H364.19zM369.92 225.6H375.65V228H369.92z"/>
<path fill="#67cc5c" d="M156.73 184.8H162.47V187.2H156.73zM162.47 187.2H168.2V189.6H162.47zM238.06 187.2H243.79V189.6H238.06zM255.26 187.2H260.99V189.6H255.26zM725.37 187.2H731.1V189.6H725.37zM173.93 189.6H180.73V192H173.93zM226.59 189.6H232.33V192H226.59zM272.46 189.6H283.92V192H272.46zM220.86 192H226.59V194.4H220.86zM289.66 192H301.12V194.4H289.66zM346.99 192H352.72V194.4H346.99zM708.17 192H713.9V194.4H708.17zM306.86 194.4H312.59V196.8H306.86zM318.32 196.8H324.06V199.2H318.32zM679.5 196.8H685.23V199.2H679.5zM324.05 199.2H329.79V201.6H324.05zM329.79 199.2H335.52V204H329.79zM335.52 201.6H341.25V206.4H335.52zM633.64 204H639.37V206.4H633.64zM341.25 206.4H346.99V211.2H341.25zM593.51 208.8H599.24V211.2H593.51zM346.99 208.8H352.72V213.6H346.99zM484.58 211.2H490.31V213.6H484.58zM570.57 211.2H582.04V213.6H570.57zM352.72 213.6H358.45V216H352.72zM507.51 213.6H513.24V216H507.51zM553.38 213.6H564.84V216H553.38zM438.71 216H444.45V218.4H438.71zM593.51 216H599.24V218.4H593.51zM358.45 216H364.19V220.8H358.45zM364.19 218.4H369.92V223.2H364.19zM421.52 220.8H427.25V223.2H421.52zM369.92 223.2H375.65V225.6H369.92z"/>
<path fill="#5cc863" d="M209.39 177.6H215.13V180H209.39zM151 180H156.73V182.4H151zM243.79 184.8H255.26V187.2H243.79zM232.33 187.2H238.06V189.6H232.33zM260.99 187.2H272.46V189.6H260.99zM283.92 189.6H295.39V192H283.92zM215.13 192H220.86V194.4H215.13zM301.12 192H312.59V194.4H301.12zM731.1 192H736.83V194.4H731.1zM209.39 194.4H215.13V196.8H209.39zM312.59 194.4H324.06V196.8H312.59zM324.05 194.4H329.79V199.2H324.05zM203.66 196.8H209.39V199.2H203.66zM329.79 196.8H335.52V199.2H329.79zM197.93 199.2H203.66V201.6H197.93zM335.52 199.2H341.25V201.6H335.52zM192.2 201.6H197.93V204H192.2zM650.84 201.6H656.57V204H650.84zM341.25 201.6H346.99V206.4H341.25zM186.46 204H192.2V206.4H186.46zM346.99 204H352.72V208.8H346.99zM180.73 206.4H186.46V208.8H180.73zM616.44 206.4H622.17V208.8H616.44zM375.65 208.8H381.38V211.2H375.65zM352.72 208.8H358.45V213.6H352.72zM490.31 211.2H496.05V213.6H490.31zM358.45 211.2H364.19V216H358.45zM501.78 213.6H507.51V216H501.78zM364.19 213.6H369.92V218.4H364.19zM524.71 216H530.44V218.4H524.71zM432.98 218.4H438.71V220.8H432.98zM369.92 218.4H375.65V223.2H369.92z"/>
<path fill="#54c568" d="M272.46 170.4H278.19V172.8H272.46zM306.86 175.2H312.59V177.6H306.86zM318.32 180H324.06V182.4H318.32zM156.73 182.4H162.47V184.8H156.73zM748.3 182.4H756V184.8H748.3zM162.47 184.8H168.2V187.2H162.47zM232.33 184.8H243.79V187.2H232.33zM255.26 184.8H272.46V187.2H255.26zM168.2 187.2H180.73V189.6H168.2zM226.59 187.2H232.33V189.6H226.59zM272.46 187.2H289.66V189.6H272.46zM220.86 189.6H226.59V192H220.86zM295.39 189.6H312.59V192H295.39zM719.63 189.6H725.36V192H719.63zM312.59 192H324.06V194.4H312.59zM329.79 194.4H335.52V196.8H329.79zM696.7 194.4H702.43V196.8H696.7zM335.52 196.8H341.25V199.2H335.52zM192.2 199.2H197.93V201.6H192.2zM341.25 199.2H346.99V201.6H341.25zM668.03 199.2H673.77V201.6H668.03zM352.72 206.4H358.45V208.8H352.72zM358.45 208.8H364.19V211.2H358.45zM599.24 208.8H604.97V211.2H599.24zM450.18 213.6H473.11V216H450.18zM369.92 216H375.65V218.4H369.92zM518.98 216H524.71V218.4H518.98zM541.91 216H547.64V218.4H541.91zM375.65 225.6H381.38V228H375.65zM478.85 228H490.31V230.4H478.85z"/>
<path fill="#4cc26c" d="M243.79 168H249.53V170.4H243.79zM215.13 175.2H220.86V177.6H215.13zM151 177.6H156.73V180H151zM238.06 182.4H266.72V184.8H238.06zM168.2 184.8H173.93V187.2H168.2zM226.59 184.8H232.33V187.2H226.59zM272.46 184.8H283.92V187.2H272.46zM220.86 187.2H226.59V189.6H220.86zM289.66 187.2H306.86V189.6H289.66zM215.13 189.6H220.86V192H215.13zM312.59 189.6H318.32V192H312.59zM341.25 189.6H346.99V192H341.25zM209.39 192H215.13V194.4H209.39zM324.05 192H329.79V194.4H324.05zM203.66 194.4H209.39V196.8H203.66zM197.93 196.8H203.66V199.2H197.93zM713.9 196.8H719.63V199.2H713.9zM358.45 199.2H364.19V201.6H358.45zM186.46 201.6H192.2V204H186.46zM346.99 201.6H352.72V204H346.99zM180.73 204H186.46V206.4H180.73zM639.37 204H645.1V206.4H639.37zM364.19 211.2H369.92V213.6H364.19zM582.04 211.2H587.77V213.6H582.04zM473.11 213.6H484.58V216H473.11zM496.04 213.6H501.78V216H496.04zM564.84 213.6H570.57V216H564.84zM444.45 216H450.18V218.4H444.45zM513.24 216H518.98V218.4H513.24zM375.65 220.8H381.38V225.6H375.65zM490.31 225.6H496.05V228H490.31zM467.38 228H478.85V230.4H467.38z"/>
<path fill="#44bf70" d="M156.73 180H162.47V182.4H156.73zM249.53 180H255.26V182.4H249.53zM162.47 182.4H168.2V184.8H162.47zM232.33 182.4H238.06V184.8H232.33zM266.72 182.4H272.46V184.8H266.72zM173.93 184.8H180.73V187.2H173.93zM283.92 184.8H289.66V187.2H283.92zM736.83 184.8H742.56V187.2H736.83zM306.86 187.2H312.59V189.6H306.86zM318.32 189.6H324.06V192H318.32zM742.56 189.6H748.3V192H742.56zM329.79 192H335.52V194.4H329.79zM335.52 194.4H341.25V196.8H335.52zM352.72 204H358.45V206.4H352.72zM622.17 206.4H627.9V208.8H622.17zM369.92 213.6H375.65V216H369.92zM484.58 213.6H490.31V216H484.58zM507.51 216H513.24V218.4H507.51zM536.18 216H541.91V218.4H536.18zM427.25 220.8H432.98V223.2H427.25zM432.98 228H467.38V230.4H432.98z"/>
<path fill="#3bbb75" d="M249.53 168H255.26V170.4H249.53zM289.66 172.8H295.39V175.2H289.66zM151 175.2H156.73V177.6H151zM243.79 180H249.53V182.4H243.79zM255.26 180H260.99V182.4H255.26zM272.46 182.4H278.19V184.8H272.46zM324.05 182.4H329.79V184.8H324.05zM220.86 184.8H226.59V187.2H220.86zM289.66 184.8H295.39V187.2H289.66zM215.13 187.2H220.86V189.6H215.13zM209.39 189.6H215.13V192H209.39zM203.66 192H209.39V194.4H203.66zM197.93 194.4H203.66V196.8H197.93zM192.2 196.8H197.93V199.2H192.2zM341.25 196.8H346.99V199.2H341.25zM358.45 206.4H364.19V208.8H358.45zM369.92 206.4H375.65V208.8H369.92zM604.97 208.8H610.7V211.2H604.97zM627.9 211.2H633.64V213.6H627.9zM387.12 216H392.85V218.4H387.12zM375.65 218.4H381.38V220.8H375.65zM438.71 218.4H444.45V220.8H438.71zM404.32 223.2H410.05V225.6H404.32zM404.32 228H410.05V230.4H404.32z"/>
<path fill="#35b779" d="M312.59 177.6H318.32V180H312.59zM238.06 180H243.79V182.4H238.06zM260.99 180H266.72V182.4H260.99zM168.2 182.4H173.93V184.8H168.2zM226.59 182.4H232.33V184.8H226.59zM278.19 182.4H283.92V184.8H278.19zM295.39 184.8H306.86V187.2H295.39zM312.59 187.2H318.32V189.6H312.59zM335.52 187.2H341.25V189.6H335.52zM324.05 189.6H329.79V192H324.05zM186.46 199.2H192.2V201.6H186.46zM346.99 199.2H352.72V201.6H346.99zM180.73 201.6H186.46V204H180.73zM656.57 201.6H662.3V204H656.57zM364.19 208.8H369.92V211.2H364.19zM587.77 211.2H593.51V213.6H587.77zM490.31 213.6H496.05V216H490.31zM610.7 213.6H616.44V216H610.7zM450.18 216H473.11V218.4H450.18zM501.78 216H507.51V218.4H501.78zM530.44 216H536.18V218.4H530.44zM547.64 216H553.37V218.4H547.64zM381.38 225.6H387.12V228H381.38z"/>
<path fill="#2ab07f" d="M162.47 170.4H168.2V172.8H162.47zM232.33 170.4H238.06V172.8H232.33zM266.72 170.4H272.46V172.8H266.72zM156.73 177.6H162.47V180H156.73zM162.47 180H168.2V182.4H162.47zM232.33 180H238.06V182.4H232.33zM266.72 180H272.46V182.4H266.72zM173.93 182.4H180.73V184.8H173.93zM283.92 182.4H289.66V184.8H283.92zM306.86 184.8H312.59V187.2H306.86zM329.79 184.8H335.52V187.2H329.79zM318.32 187.2H324.06V189.6H318.32zM329.79 189.6H335.52V192H329.79zM335.52 192H341.25V194.4H335.52zM341.25 194.4H346.99V196.8H341.25zM352.72 196.8H358.45V199.2H352.72zM352.72 201.6H358.45V204H352.72zM358.45 204H364.19V206.4H358.45zM369.92 211.2H375.65V213.6H369.92zM375.65 216H381.38V218.4H375.65zM473.11 216H484.58V218.4H473.11zM496.04 216H501.78V218.4H496.04zM392.85 218.4H398.58V220.8H392.85zM524.71 218.4H530.44V220.8H524.71zM381.38 223.2H387.12V225.6H381.38zM410.05 223.2H421.52V225.6H410.05zM496.04 225.6H501.78V228H496.04zM410.05 228H432.98V230.4H410.05z"/>
<path fill="#22a884" d="M156.73 168H162.47V170.4H156.73zM179.66 172.8H180.73V175.2H179.66zM283.92 172.8H289.66V175.2H283.92zM243.79 177.6H255.26V180H243.79zM272.46 180H278.19V182.4H272.46zM289.66 182.4H295.39V184.8H289.66zM215.13 184.8H220.86V187.2H215.13zM742.56 184.8H748.3V187.2H742.56zM209.39 187.2H215.13V189.6H209.39zM324.05 187.2H335.52V189.6H324.05zM335.52 189.6H341.25V192H335.52zM180.73 192H186.46V194.4H180.73zM341.25 192H346.99V194.4H341.25zM346.99 194.4H352.72V199.2H346.99zM685.23 196.8H690.97V199.2H685.23zM352.72 199.2H358.45V201.6H352.72zM358.45 201.6H364.19V204H358.45zM364.19 204H369.92V208.8H364.19zM369.92 208.8H375.65V211.2H369.92zM381.38 213.6H387.12V216H381.38zM484.58 216H490.31V218.4H484.58zM444.45 218.4H450.18V220.8H444.45zM518.98 218.4H524.71V220.8H518.98zM381.38 220.8H387.12V223.2H381.38zM432.98 220.8H438.71V223.2H432.98z"/>
<path fill="#1fa188" d="M173.93 172.8H179.66V175.2H173.93zM301.12 175.2H306.86V177.6H301.12zM238.06 177.6H243.79V180H238.06zM255.26 177.6H260.99V180H255.26zM306.86 177.6H312.59V180H306.86zM226.59 180H232.33V182.4H226.59zM278.19 180H283.92V182.4H278.19zM312.59 180H318.32V182.4H312.59zM220.86 182.4H226.59V184.8H220.86zM295.39 182.4H306.86V184.8H295.39zM318.32 182.4H324.06V187.2H318.32zM312.59 184.8H318.32V187.2H312.59zM324.05 184.8H329.79V187.2H324.05zM186.46 189.6H192.2V192H186.46zM203.66 189.6H209.39V192H203.66zM197.93 192H203.66V194.4H197.93zM192.2 194.4H197.93V196.8H192.2zM375.65 211.2H381.38V216H375.65zM570.57 213.6H582.04V216H570.57zM490.31 216H496.05V218.4H490.31zM553.38 216H564.84V218.4H553.38zM507.51 218.4H518.98V220.8H507.51zM541.91 218.4H547.64V220.8H541.91zM570.57 218.4H582.04V220.8H570.57zM398.58 220.8H404.32V223.2H398.58zM553.38 220.8H564.84V223.2H553.38zM530.44 223.2H547.64V225.6H530.44zM501.78 225.6H524.71V228H501.78z"/>
<path fill="#1f988b" d="M238.06 170.4H266.72V172.8H238.06zM151 172.8H156.73V175.2H151zM226.59 172.8H232.33V175.2H226.59zM272.46 172.8H283.92V175.2H272.46zM220.86 175.2H226.59V177.6H220.86zM243.79 175.2H255.26V177.6H243.79zM289.66 175.2H301.12V177.6H289.66zM215.13 177.6H220.86V180H215.13zM232.33 177.6H238.06V180H232.33zM260.99 177.6H278.19V180H260.99zM168.2 180H173.93V182.4H168.2zM209.39 180H215.13V182.4H209.39zM283.92 180H295.39V182.4H283.92zM306.86 180H312.59V184.8H306.86zM203.66 182.4H209.39V184.8H203.66zM215.13 182.4H220.86V184.8H215.13zM312.59 182.4H318.32V184.8H312.59zM197.93 184.8H203.66V187.2H197.93zM748.3 184.8H756V187.2H748.3zM192.2 187.2H197.93V189.6H192.2zM186.46 196.8H192.2V199.2H186.46zM180.73 199.2H186.46V201.6H180.73zM685.23 201.6H690.97V204H685.23zM450.18 218.4H473.11V220.8H450.18zM501.78 218.4H507.51V220.8H501.78zM536.18 218.4H541.91V220.8H536.18zM438.71 220.8H444.45V223.2H438.71zM421.52 223.2H427.25V225.6H421.52z"/>
<path fill="#21908d" d="M151 165.6H156.73V168H151zM168.2 172.8H173.93V175.2H168.2zM243.79 172.8H255.26V175.2H243.79zM232.33 172.8H243.79V177.6H232.33zM255.26 172.8H272.46V177.6H255.26zM156.73 175.2H162.47V177.6H156.73zM272.46 175.2H278.19V177.6H272.46zM226.59 175.2H232.33V180H226.59zM278.19 175.2H289.66V180H278.19zM162.47 177.6H168.2V180H162.47zM289.66 177.6H295.39V180H289.66zM220.86 177.6H226.59V182.4H220.86zM295.39 177.6H306.86V182.4H295.39zM173.93 180H180.73V182.4H173.93zM215.13 180H220.86V182.4H215.13zM209.39 182.4H215.13V187.2H209.39zM203.66 184.8H209.39V189.6H203.66zM197.93 187.2H203.66V192H197.93zM192.2 189.6H197.93V194.4H192.2zM186.46 192H192.2V196.8H186.46zM180.73 194.4H186.46V199.2H180.73zM381.38 218.4H387.12V220.8H381.38zM473.11 218.4H484.58V220.8H473.11zM530.44 218.4H536.18V220.8H530.44z"/>
<path fill="#23888e" d="M151 168H156.73V172.8H151zM156.73 170.4H162.47V175.2H156.73zM162.47 172.8H168.2V177.6H162.47zM168.2 175.2H180.73V180H168.2zM656.57 206.4H662.3V208.8H656.57zM610.7 208.8H616.44V211.2H610.7zM381.38 216H387.12V218.4H381.38zM484.58 218.4H490.31V220.8H484.58zM496.04 218.4H501.78V220.8H496.04zM427.25 223.2H432.98V225.6H427.25z"/>
<path fill="#27808e" d="M731.1 187.2H736.83V189.6H731.1zM713.9 192H719.63V194.4H713.9zM627.9 206.4H633.64V208.8H627.9zM387.12 218.4H392.85V220.8H387.12zM444.45 220.8H450.18V223.2H444.45zM513.24 220.8H524.71V223.2H513.24z"/>
<path fill="#2a788e" d="M490.31 218.4H496.05V220.8H490.31zM387.12 220.8H392.85V223.2H387.12zM450.18 220.8H455.91V223.2H450.18zM507.51 220.8H513.24V223.2H507.51zM432.98 223.2H438.71V225.6H432.98z"/>
<path fill="#2d708e" d="M593.51 211.2H599.24V213.6H593.51zM455.91 220.8H478.85V223.2H455.91zM501.78 220.8H507.51V223.2H501.78z"/>
<path fill="#31688e" d="M736.83 189.6H742.56V192H736.83zM673.77 199.2H679.5V201.6H673.77zM392.85 220.8H398.58V223.2H392.85zM478.85 220.8H484.58V223.2H478.85zM524.71 220.8H530.44V223.2H524.71zM438.71 223.2H444.45V225.6H438.71z"/>
<path fill="#355f8d" d="M736.83 187.2H742.56V189.6H736.83zM484.58 220.8H490.31V223.2H484.58zM496.04 220.8H501.78V223.2H496.04zM444.45 223.2H450.18V225.6H444.45z"/>
<path fill="#39568c" d="M719.63 194.4H725.36V196.8H719.63zM696.7 199.2H702.43V201.6H696.7zM645.1 204H650.84V206.4H645.1zM490.31 220.8H496.05V223.2H490.31zM398.58 223.2H404.32V225.6H398.58zM450.18 223.2H455.91V225.6H450.18z"/>
<path fill="#3d4d8a" d="M587.77 216H593.51V218.4H587.77zM455.91 223.2H473.11V225.6H455.91z"/>
<path fill="#414487" d="M639.37 208.8H645.1V211.2H639.37zM473.11 223.2H484.58V225.6H473.11z"/>
<path fill="#443983" d="M754.03 187.2H756V189.6H754.03zM484.58 223.2H490.31V225.6H484.58zM432.98 225.6H444.45V228H432.98z"/>
<path fill="#472f7d" d="M742.56 187.2H754.03V189.6H742.56zM702.43 194.4H708.17V196.8H702.43zM444.45 225.6H450.18V228H444.45z"/>
<path fill="#482475" d="M668.03 204H673.77V206.4H668.03zM622.17 211.2H627.9V213.6H622.17zM604.97 213.6H610.7V216H604.97zM450.18 225.6H455.91V228H450.18z"/>
<path fill="#481a6c" d="M455.91 225.6H490.31V228H455.91z"/>
<path fill="#440154" d="M708.17 196.8H713.9V199.2H708.17zM662.3 201.6H668.03V204H662.3z"/>
<path fill="#440154" d="M616.44 208.8H622.17V211.2H616.44z"/>
<path fill="#440154" d="M690.97 196.8H696.7V199.2H690.97zM633.64 206.4H639.37V208.8H633.64z"/>
<path fill="#440154" d="M725.37 192H731.1V194.4H725.37zM599.24 211.2H604.97V213.6H599.24zM564.84 216H570.57V218.4H564.84zM490.31 223.2H496.05V225.6H490.31z"/>
<path fill="#440154" d="M679.5 201.6H685.23V204H679.5zM650.84 206.4H656.57V208.8H650.84zM547.64 218.4H553.37V220.8H547.64z"/>
<path fill="#440154" d="M582.04 213.6H587.77V218.4H582.04zM404.32 225.6H410.05V228H404.32z"/>
<path fill="#440154" d="M679.5 199.2H685.23V201.6H679.5zM650.84 204H656.57V206.4H650.84zM547.64 220.8H553.37V223.2H547.64z"/>
<path fill="#440154" d="M725.37 189.6H731.1V192H725.37zM599.24 213.6H604.97V216H599.24zM564.84 218.4H570.57V220.8H564.84zM496.04 223.2H501.78V225.6H496.04z"/>
<path fill="#440154" d="M690.97 199.2H696.7V201.6H690.97zM633.64 208.8H639.37V211.2H633.64z"/>
<path fill="#440154" d="M616.44 211.2H622.17V213.6H616.44zM410.05 225.6H432.98V228H410.05z"/>
<path fill="#440154" d="M708.17 194.4H713.9V196.8H708.17zM662.3 204H668.03V206.4H662.3z"/>
<path fill="#440154" d="M731.1 189.6H736.83V192H731.1z"/>
<path fill="#440154" d="M668.03 201.6H673.77V204H668.03zM622.17 208.8H627.9V211.2H622.17zM604.97 211.2H610.7V213.6H604.97zM501.78 223.2H507.51V225.6H501.78z"/>
<path fill="#440154" d="M719.63 192H725.36V194.4H719.63zM713.9 194.4H719.63V196.8H713.9zM696.7 196.8H708.17V199.2H696.7zM685.23 199.2H690.97V201.6H685.23zM673.77 201.6H679.5V204H673.77zM656.57 204H662.3V206.4H656.57zM639.37 206.4H650.84V208.8H639.37zM627.9 208.8H633.64V211.2H627.9zM610.7 211.2H616.44V213.6H610.7zM587.77 213.6H599.24V216H587.77zM570.57 216H582.04V218.4H570.57zM553.38 218.4H564.84V220.8H553.38zM530.44 220.8H547.64V223.2H530.44zM507.51 223.2H530.44V225.6H507.51z"/>
<rect x="379" y="61" width="377" height="1" fill="#fde724" opacity="0.55"/>
</g>
<path d="M154.5 60.5V420M181.5 60.5V420M200.5 60.5V420M215.5 60.5V420M227.5 60.5V420M237.5 60.5V420M246.5 60.5V420M253.5 60.5V420M260.5 60.5V420M306.5 60.5V420M333.5 60.5V420M352.5 60.5V420M367.5 60.5V420M379.5 60.5V420M389.5 60.5V420M398.5 60.5V420M406.5 60.5V420M413.5 60.5V420M459.5 60.5V420M485.5 60.5V420M504.5 60.5V420M519.5 60.5V420M531.5 60.5V420M542.5 60.5V420M550.5 60.5V420M558.5 60.5V420M565.5 60.5V420M611.5 60.5V420M638.5 60.5V420M657.5 60.5V420M672.5 60.5V420M684.5 60.5V420M694.5 60.5V420M703.5 60.5V420M711.5 60.5V420M717.5 60.5V420M108.5 372.5H756M108.5 324.5H756M108.5 276.5H756M108.5 228.5H756M108.5 180.5H756M108.5 132.5H756M108.5 84.5H756" stroke="#aaaaaa" stroke-width="1" fill="none" shape-rendering="crispEdges"/>
<path d="M260.37 159.6L312.54 173.77L337.34 205.2L397.97 228L501.08 175.19L513.72 171.59L534.53 182.4L549.51 212.39L593.68 228.01L610.97 272.39L756 249.53M260.37 343.2L295.48 340.08L352.1 340.07L397.97 346.08L426.97 332.87L470.67 296.75L509.26 278.64L519.24 278.63L531.3 297.6L565.11 333L577.17 338.99L594.53 329.11L616.98 366.01L641.24 383.99L664.64 390L693.87 390L718.13 384L746.05 383.97L756 385.16" stroke="#666666" stroke-width="2.78" fill="none" stroke-linejoin="round" stroke-linecap="butt"/>
<path d="M103 420.5H108M103 372.5H108M103 324.5H108M103 276.5H108M103 228.5H108M103 180.5H108M103 132.5H108M103 84.5H108M108.5 420V426M154.5 420V423.6M181.5 420V423.6M200.5 420V423.6M215.5 420V423.6M227.5 420V423.6M237.5 420V423.6M246.5 420V423.6M253.5 420V423.6M260.5 420V426M306.5 420V423.6M333.5 420V423.6M352.5 420V423.6M367.5 420V423.6M379.5 420V423.6M389.5 420V423.6M398.5 420V423.6M406.5 420V423.6M413.5 420V426M459.5 420V423.6M485.5 420V423.6M504.5 420V423.6M519.5 420V423.6M531.5 420V423.6M542.5 420V423.6M550.5 420V423.6M558.5 420V423.6M565.5 420V426M611.5 420V423.6M638.5 420V423.6M657.5 420V423.6M672.5 420V423.6M684.5 420V423.6M694.5 420V423.6M703.5 420V423.6M711.5 420V423.6M717.5 420V426" stroke="#000" stroke-width="1" fill="none" shape-rendering="crispEdges"/><rect x="108.5" y="60.5" width="648" height="360" fill="none" stroke="#000" stroke-width="1" shape-rendering="crispEdges"/>
<defs><linearGradient id="vg" x1="0" y1="1" x2="0" y2="0"><stop offset="0" stop-color="#fde725"/><stop offset="0.03" stop-color="#eae51a"/><stop offset="0.06" stop-color="#d5e21a"/><stop offset="0.09" stop-color="#c0df25"/><stop offset="0.12" stop-color="#aadc32"/><stop offset="0.16" stop-color="#95d840"/><stop offset="0.19" stop-color="#81d34d"/><stop offset="0.22" stop-color="#6ece58"/><stop offset="0.25" stop-color="#5cc863"/><stop offset="0.28" stop-color="#4cc26c"/><stop offset="0.31" stop-color="#3dbc74"/><stop offset="0.34" stop-color="#31b57b"/><stop offset="0.38" stop-color="#27ad81"/><stop offset="0.41" stop-color="#21a685"/><stop offset="0.44" stop-color="#1f9f88"/><stop offset="0.47" stop-color="#1f978b"/><stop offset="0.5" stop-color="#21908d"/><stop offset="0.53" stop-color="#23888e"/><stop offset="0.56" stop-color="#26818e"/><stop offset="0.59" stop-color="#29798e"/><stop offset="0.62" stop-color="#2c718e"/><stop offset="0.66" stop-color="#306a8e"/><stop offset="0.69" stop-color="#33628d"/><stop offset="0.72" stop-color="#375a8c"/><stop offset="0.75" stop-color="#3b518b"/><stop offset="0.78" stop-color="#3f4889"/><stop offset="0.81" stop-color="#423f85"/><stop offset="0.84" stop-color="#453581"/><stop offset="0.88" stop-color="#472c7a"/><stop offset="0.91" stop-color="#482173"/><stop offset="0.94" stop-color="#481769"/><stop offset="0.97" stop-color="#460b5e"/><stop offset="1" stop-color="#440154"/></linearGradient></defs><rect x="797.5" y="60.5" width="18" height="360" fill="url(#vg)" stroke="#000" stroke-width="1" shape-rendering="crispEdges"/><path d="M816 420.5H820M816 360.5H820M816 300.5H820M816 240.5H820M816 180.5H820M816 120.5H820M816 60.5H820" stroke="#000" stroke-width="1" fill="none" shape-rendering="crispEdges"/>
<g shape-rendering="crispEdges"><rect x="164.2" y="474" width="571.8" height="9.6" fill="#008000"/><rect x="165.2" y="483.6" width="570.8" height="14.4" fill="#0000ff"/><path d="M167.9 474H170.2V498H167.9zM180 474H184.2V498H180zM352 474H355V498H352zM384.9 474H387.2V498H384.9zM396.8 474H398.8V498H396.8zM404.8 474H418V498H404.8zM418.9 474H423.1V498H418.9zM432 474H434.1V498H432zM443.9 474H446V498H443.9zM486.9 474H489V498H486.9zM499 474H501V498H499zM505 474H508V498H505zM541.1 474H546.1V498H541.1zM564.2 474H568.3V498H564.2zM604 474H605.8V498H604zM607 474H614.1V498H607zM615 474H630.1V498H615zM704.4 474H711.1V498H704.4zM716.8 474H725.2V498H716.8zM729.8 474H733.2V498H729.8zM238 474H239V498H238zM247 474H248V498H247zM314 474H315V498H314zM365 474H366V498H365zM370 474H371V498H370zM374 474H375V498H374zM392 474H393V498H392zM402 474H403V498H402zM491 474H492V498H491zM497 474H498V498H497zM502 474H503V498H502zM510 474H511V498H510zM513 474H514V498H513zM515 474H516V498H515zM570 474H571V498H570zM581 474H582V498H581zM645 474H646V498H645zM653 474H654V498H653zM656 474H657V498H656zM696 474H697V498H696zM258 483.6H259V498H258zM301 483.6H302V498H301zM344 483.6H345V498H344zM438 483.6H439V498H438zM481 483.6H482V498H481zM524 483.6H525V498H524zM547 483.6H548V498H547zM703.8 483.6H704.5V498H703.8z" fill="#fff"/></g><rect x="135.5" y="474.5" width="630" height="24" fill="none" stroke="#000" stroke-width="1" shape-rendering="crispEdges"/><path d="M192.5 498V503.5M286.5 498V503.5M383.5 498V503.5M480.5 498V503.5M579.5 498V503.5M676.5 498V503.5" stroke="#000" stroke-width="1" fill="none" shape-rendering="crispEdges"/>
<g font-family="'DejaVu Sans','Liberation Sans',sans-serif" font-size="13.89" fill="#000"><text x="97.8" y="425.6" text-anchor="end">−200</text><text x="97.8" y="377.6" text-anchor="end">−180</text><text x="97.8" y="329.6" text-anchor="end">−160</text><text x="97.8" y="281.6" text-anchor="end">−140</text><text x="97.8" y="233.6" text-anchor="end">−120</text><text x="97.8" y="185.6" text-anchor="end">−100</text><text x="97.8" y="137.6" text-anchor="end">−80</text><text x="97.8" y="89.6" text-anchor="end">−60</text><text x="108.5" y="440.3" text-anchor="middle">0.01</text><text x="260.87" y="440.3" text-anchor="middle">0.1</text><text x="413.24" y="440.3" text-anchor="middle">1</text><text x="565.61" y="440.3" text-anchor="middle">10</text><text x="717.98" y="440.3" text-anchor="middle">100</text><text x="432" y="459.5" text-anchor="middle">Period [s]</text><text x="432.5" y="52" text-anchor="middle" font-size="13.89" textLength="624" lengthAdjust="spacingAndGlyphs">CQ.LEF1..HNE | 100.0Hz | 2024-12-15T00:00:03 - 2025-12-08T23:00:01 | 13367 segments</text><text transform="translate(46.5 240) rotate(-90)" text-anchor="middle">Amplitude [<tspan font-style="italic">m</tspan><tspan font-size="9.7" dy="-5.3" dx="0.8">2</tspan><tspan dy="5.3" font-style="italic">/s</tspan><tspan font-size="9.7" dy="-5.3" dx="0.6">4</tspan><tspan dy="5.3" font-style="italic">/Hz</tspan>] [dB]</text><text x="825.3" y="425.6">0</text><text x="825.3" y="365.6">5</text><text x="825.3" y="305.6">10</text><text x="825.3" y="245.6">15</text><text x="825.3" y="185.6">20</text><text x="825.3" y="125.6">25</text><text x="825.3" y="65.6">30</text><text transform="translate(859 242.5) rotate(-90)" text-anchor="middle">[%]</text><text transform="translate(189.8 517.5) rotate(-30)" text-anchor="end">2025-01</text><text transform="translate(284 517.5) rotate(-30)" text-anchor="end">2025-03</text><text transform="translate(380.9 517.5) rotate(-30)" text-anchor="end">2025-05</text><text transform="translate(478.1 517.5) rotate(-30)" text-anchor="end">2025-07</text><text transform="translate(577 517.5) rotate(-30)" text-anchor="end">2025-09</text><text transform="translate(674 517.5) rotate(-30)" text-anchor="end">2025-11</text></g><rect x="0" y="577" width="900" height="23" fill="#808080"/><text x="9" y="594.7" font-family="'DejaVu Sans','Liberation Sans',sans-serif" font-size="13.89" fill="#fff" textLength="534.5" lengthAdjust="spacingAndGlyphs">Generated by SeedPSD on 2025-12-15 | Calculations updated on 2025-12-09</text>
</svg>
</body></html>
